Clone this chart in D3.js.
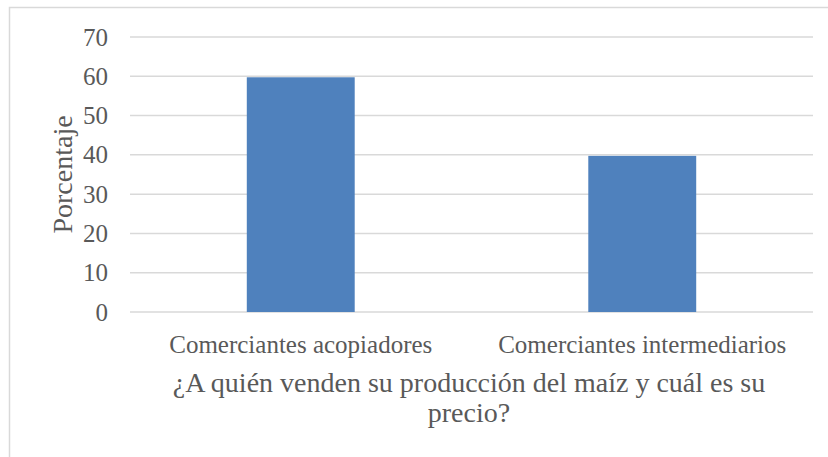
<!DOCTYPE html>
<meta charset="utf-8">
<style>
body { margin: 0; background: #fff; }
text { font-family: "Liberation Serif", serif; fill: #595959; }
.grid line { stroke: #d9d9d9; stroke-width: 1.5px; }
</style>
<svg width="828" height="457"></svg>
<script src="https://d3js.org/d3.v7.min.js"></script>
<script>
var categories = ["Comerciantes acopiadores", "Comerciantes intermediarios"];
var values = [60, 40];
var yTicks = [0, 10, 20, 30, 40, 50, 60, 70];
var yLabel = "Porcentaje";
var titleLines = ["¿A quién venden su producción del maíz y cuál es su", "precio?"];

var svg = d3.select("svg"),
    width = +svg.attr("width"),
    height = +svg.attr("height");

var plotLeft = 130, plotRight = 813, plotTop = 37, plotBottom = 312;

// chart frame (runs off the right and bottom of the picture)
svg.append("rect")
    .attr("x", 9.5).attr("y", 7.5)
    .attr("width", width + 20).attr("height", height + 20)
    .attr("fill", "none")
    .attr("stroke", "#d9d9d9")
    .attr("stroke-width", 1.5);

var x = d3.scaleBand()
    .domain(categories)
    .range([plotLeft, plotRight])
    .padding(0);

var y = d3.scaleLinear()
    .domain([0, 70])
    .range([plotBottom, plotTop]);

var barWidth = x.bandwidth() * 0.316;

svg.append("g")
    .attr("class", "grid")
  .selectAll("line")
  .data(yTicks)
  .enter().append("line")
    .attr("x1", plotLeft).attr("x2", plotRight)
    .attr("y1", function(d) { return y(d); })
    .attr("y2", function(d) { return y(d); });

svg.append("g")
  .selectAll("rect")
  .data(values)
  .enter().append("rect")
    .attr("x", function(d, i) { return x(categories[i]) + (x.bandwidth() - barWidth) / 2; })
    .attr("y", function(d) { return y(d) + 1; })
    .attr("width", barWidth)
    .attr("height", function(d) { return y(0) - y(d) - 1; })
    .attr("fill", "#4f81bd");

svg.append("g")
  .selectAll("text")
  .data(yTicks)
  .enter().append("text")
    .attr("x", 108)
    .attr("y", function(d) { return y(d); })
    .attr("dy", "0.34em")
    .attr("text-anchor", "end")
    .style("font-size", "25px")
    .text(function(d) { return d; });

svg.append("g")
  .selectAll("text")
  .data(categories)
  .enter().append("text")
    .attr("x", function(d) { return x(d) + x.bandwidth() / 2; })
    .attr("y", 353)
    .attr("text-anchor", "middle")
    .style("font-size", "25px")
    .text(function(d) { return d; });

svg.append("text")
    .attr("transform", "translate(72," + ((plotTop + plotBottom) / 2) + ") rotate(-90)")
    .attr("text-anchor", "middle")
    .style("font-size", "28px")
    .text(yLabel);

svg.append("g")
  .selectAll("text")
  .data(titleLines)
  .enter().append("text")
    .attr("x", 469)
    .attr("y", function(d, i) { return 392 + i * 30; })
    .attr("text-anchor", "middle")
    .style("font-size", "28px")
    .text(function(d) { return d; });
</script>
